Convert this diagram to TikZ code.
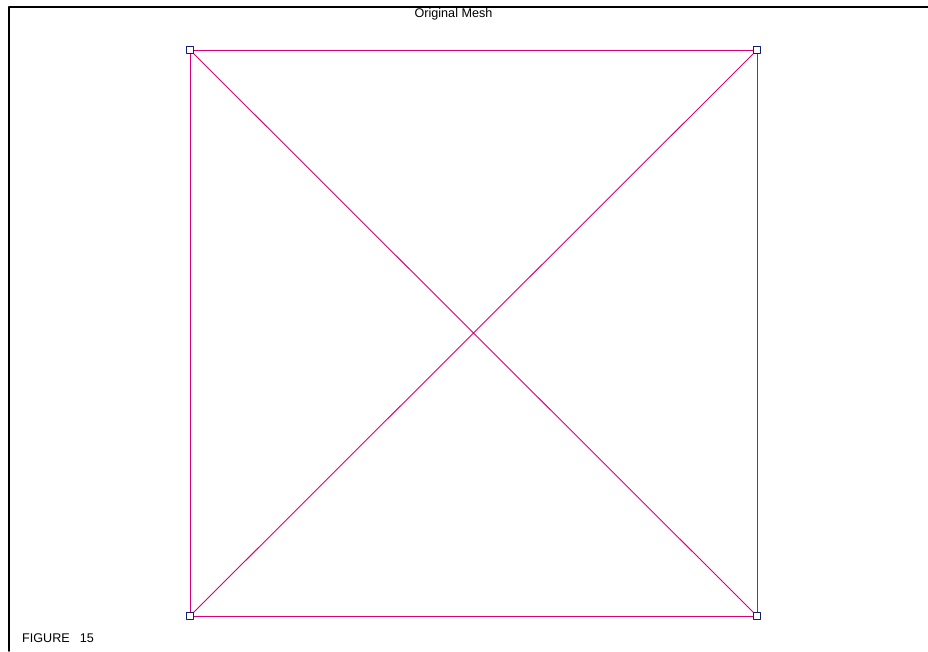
\documentclass[tikz,border=0pt]{standalone}
\usepackage{fontspec}
\setmainfont{Liberation Sans}
\definecolor{meshline}{RGB}{218,0,120}
\definecolor{meshnode}{RGB}{20,30,110}
\begin{document}
\begin{tikzpicture}[x=1pt,y=-1pt, line join=round, line cap=round,
    edge/.style={draw=meshline,line width=0.9pt},
    vtx/.style={draw=meshnode,line width=1.4pt,fill=white,minimum size=6.5pt,inner sep=0pt,outer sep=0pt}]
        \useasboundingbox (0,0) rectangle (928,651);
        \draw[line width=1.5pt] (9,651)--(9,7)--(928,7);
        \node (title) at (453.5,14.5) {\fontsize{12.6}{14}\selectfont Original Mesh};
        \node[anchor=base west,inner sep=0pt] (fig) at (22,642) {\fontsize{12.6}{14}\selectfont FIGURE\hspace{10pt}15};
        \coordinate (p1) at (190,50);
        \coordinate (p2) at (757,50);
        \coordinate (p3) at (757,616);
        \coordinate (p4) at (190,616);
        \draw[edge] (p1)--(p2)--(p3)--(p4)--cycle;
        \draw[edge] (p1)--(p3) (p2)--(p4);
        \foreach \i in {1,...,4}
            \node[vtx] (m\i) at (p\i) {};
        
    \end{tikzpicture}
\end{document}
